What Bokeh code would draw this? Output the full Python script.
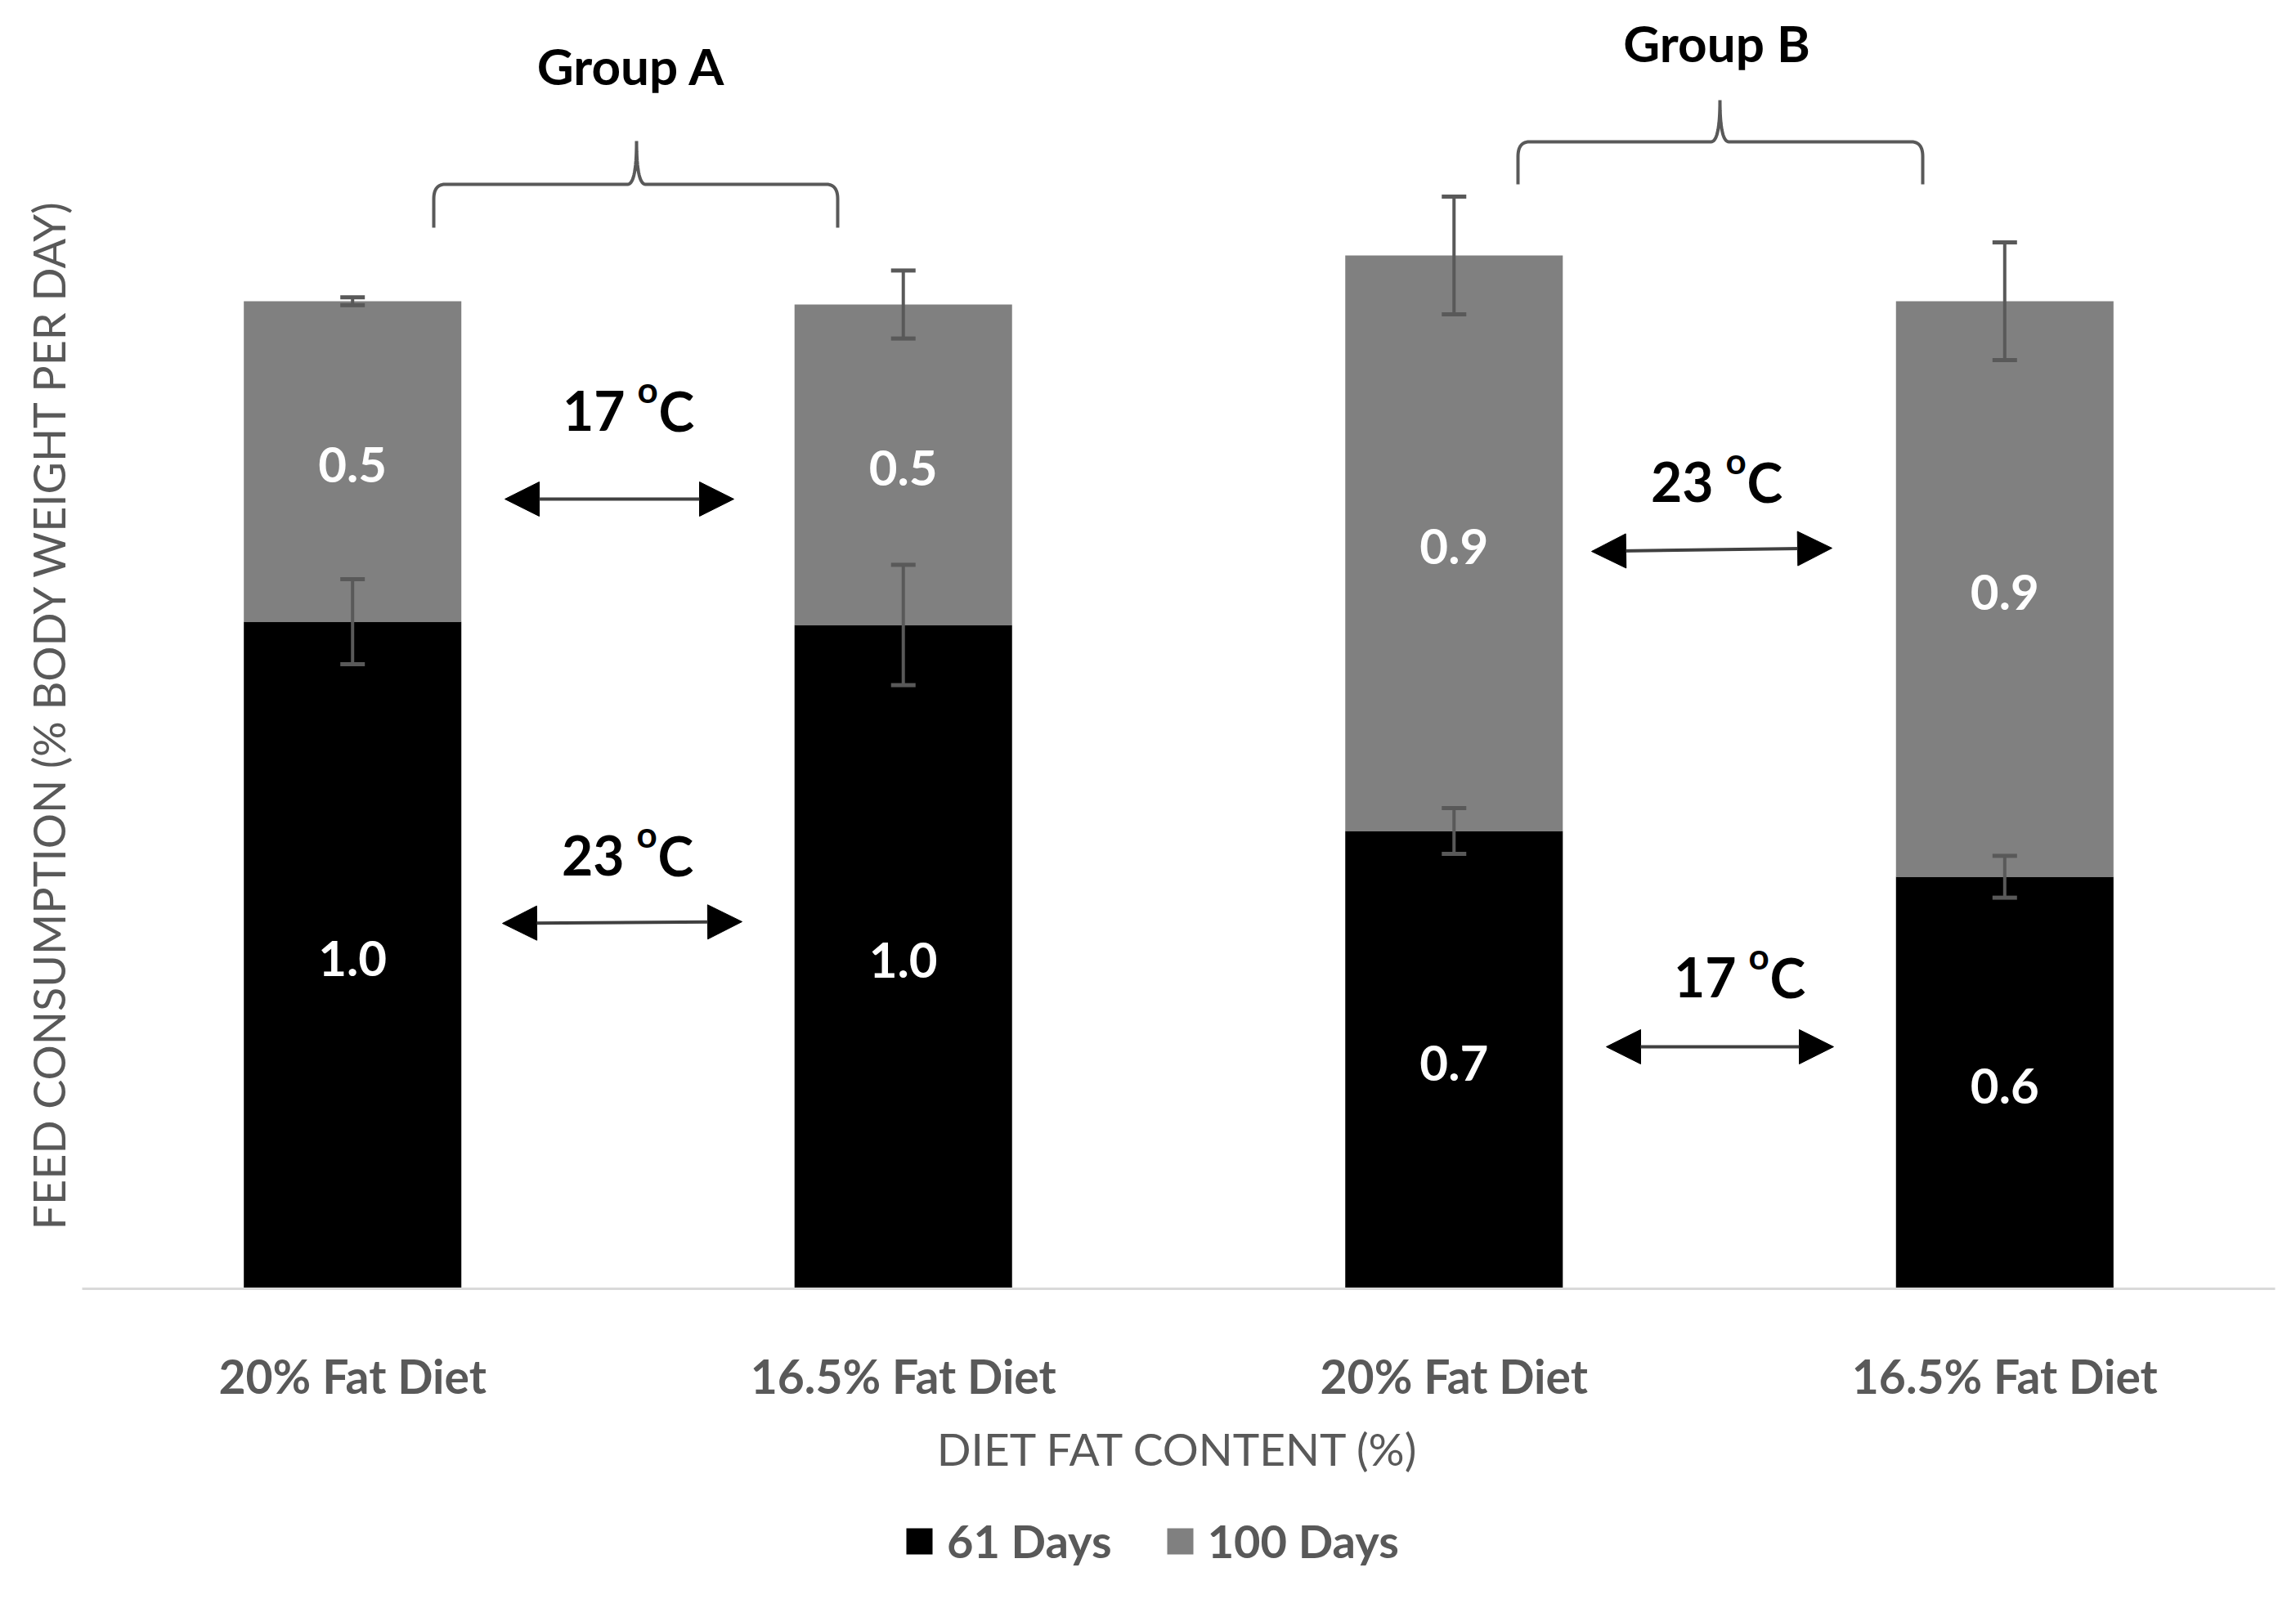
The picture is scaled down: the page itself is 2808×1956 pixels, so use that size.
import numpy as np
from bokeh.plotting import figure
from bokeh.layouts import column
from bokeh.models import (Range1d, FixedTicker, Whisker, ColumnDataSource, Arrow,
                          NormalHead, TeeHead, Legend, LegendItem, Title)
from bokeh.core.properties import value
from bokeh.embed import file_html
from bokeh.resources import INLINE

# ---------------- data ----------------
categories = ["20% Fat Diet", "16.5% Fat Diet", "20% Fat Diet", "16.5% Fat Diet"]
series_names = ["61 Days", "100 Days"]
series_colors = ["black", "#808080"]
days61 = [1.02, 1.015, 0.70, 0.63]
days100 = [0.49, 0.49, 0.88, 0.88]
err61 = [0.065, 0.092, 0.035, 0.032]
err100 = [0.006, 0.052, 0.09, 0.09]
group_names = ["Group A", "Group B"]
temp_top = ["17", "23"]      # upper arrow label per group
temp_bottom = ["23", "17"]   # lower arrow label per group

FONT = "Lato"
GRAY_TXT = "#595959"
X0, X1 = -0.491, 3.491
Y0, Y1 = 0.0, 1.97
FRAME_L, FRAME_R, FRAME_T, FRAME_B = 108, 2790, 8, 1584   # page pixels
FW, FH = FRAME_R - FRAME_L, FRAME_B - FRAME_T
XPX = FW / (X1 - X0)
YPX = FH / (Y1 - Y0)
BASE_FIX = 0.33   # em correction for alphabetic baseline placement
AXIS_H = 219      # estimated height of the x-axis panel
LEG_FIG_H = 1940 - FH - AXIS_H


def ix(px):
    return X0 + (px - FRAME_L) / XPX


def iy(py):
    return (FRAME_B - py) / YPX


xs = list(range(len(categories)))
top61 = days61
top100 = [a + b for a, b in zip(days61, days100)]
src = ColumnDataSource(dict(
    x=xs,
    t61=top61,
    t100=top100,
    up61=[t + e for t, e in zip(top61, err61)],
    lo61=[t - e for t, e in zip(top61, err61)],
    up100=[t + e for t, e in zip(top100, err100)],
    lo100=[t - e for t, e in zip(top100, err100)],
    c61=[t / 2 for t in top61],
    c100=[a + b / 2 for a, b in zip(days61, days100)],
    l61=[f"{v:.1f}" for v in days61],
    l100=[f"{v:.1f}" for v in days100],
))

p = figure(frame_width=FW, frame_height=FH, x_range=Range1d(X0, X1), y_range=Range1d(Y0, Y1),
           output_backend="svg", toolbar_location=None, y_axis_location=None,
           min_border_left=100, min_border_right=10, min_border_top=0,
           min_border_bottom=0)
p.grid.visible = False
p.outline_line_color = None
p.background_fill_color = "white"

r61 = p.vbar(x="x", bottom=0, top="t61", width=0.395, source=src,
             fill_color=series_colors[0], line_color=None)
r100 = p.vbar(x="x", bottom="t61", top="t100", width=0.395, source=src,
              fill_color=series_colors[1], line_color=None)

for up, lo in (("up61", "lo61"), ("up100", "lo100")):
    p.add_layout(Whisker(base="x", upper=up, lower=lo, source=src, level="annotation",
                         line_color="#595959", line_width=4,
                         upper_head=TeeHead(size=30, line_color="#595959", line_width=5),
                         lower_head=TeeHead(size=30, line_color="#595959", line_width=5)))

for yc, lab in (("c61", "l61"), ("c100", "l100")):
    p.text(x="x", y=yc, text=lab, source=src, text_font=value(FONT),
           text_font_style="bold", text_font_size="60px", text_color="white",
           text_align="center", text_baseline="middle", y_offset=4)

# x axis
ax = p.xaxis[0]
ax.ticker = FixedTicker(ticks=xs)
ax.major_label_overrides = {i: c for i, c in enumerate(categories)}
ax.major_tick_line_color = None
ax.minor_tick_line_color = None
ax.axis_line_color = "#d9d9d9"
ax.axis_line_width = 3
ax.major_label_text_font = FONT
ax.major_label_text_font_size = "57px"
ax.major_label_text_font_style = "bold"
ax.major_label_text_color = GRAY_TXT
ax.major_label_standoff = 66
ax.axis_label = "DIET FAT CONTENT (%)"
ax.axis_label_text_font = FONT
ax.axis_label_text_font_size = "55px"
ax.axis_label_text_font_style = "normal"
ax.axis_label_text_color = GRAY_TXT
ax.axis_label_standoff = 19

# y axis title
yt = Title(text="FEED CONSUMPTION (% BODY WEIGHT PER DAY)", align="left", offset=72,
           text_font=FONT, text_font_size="54px", text_font_style="normal",
           text_color=GRAY_TXT, standoff=15, vertical_align="middle")
p.add_layout(yt, "left")

# group labels and braces (page pixel geometry)
group_label_pos = [(779.5, 108), (2107, 80)]
braces = [(538, 1032, 786, 286, 233, 180), (1864, 2359, 2111, 233, 181, 130)]


def quad(a, c, b, n=16):
    t = np.linspace(0, 1, n)
    return ((1 - t) ** 2 * a[0] + 2 * (1 - t) * t * c[0] + t ** 2 * b[0],
            (1 - t) ** 2 * a[1] + 2 * (1 - t) * t * c[1] + t ** 2 * b[1])


GFS = 62
for (gx, gy), name, (xl, xr, xc, yb, yh, ytp) in zip(group_label_pos, group_names, braces):
    p.text(x=[ix(gx)], y=[iy(gy - BASE_FIX * GFS)], text=[name], text_font=value(FONT),
           text_font_style="bold", text_font_size=f"{GFS}px", text_color="black",
           text_align="center", text_baseline="alphabetic")
    segs = [
        ([xl, xl], [yb, yh + 18]),
        quad((xl, yh + 18), (xl, yh), (xl + 14, yh)),
        ([xl + 14, xc - 11], [yh, yh]),
        quad((xc - 11, yh), (xc, yh), (xc, ytp)),
        quad((xc, ytp), (xc, yh), (xc + 11, yh)),
        ([xc + 11, xr - 14], [yh, yh]),
        quad((xr - 14, yh), (xr, yh), (xr, yh + 18)),
        ([xr, xr], [yh + 18, yb]),
    ]
    bx = np.concatenate([np.asarray(s[0], float) for s in segs])
    by = np.concatenate([np.asarray(s[1], float) for s in segs])
    p.line([ix(v) for v in bx], [iy(v) for v in by], line_color="#595959", line_width=4)

# temperature arrows and labels (page pixel geometry)
arrows = [(625, 905, 618, 618), (622, 915, 1137, 1135),
          (1954, 2248, 682, 678), (1972, 2250, 1288, 1288)]
temp_pos = [(777, 532), (776, 1076), (2108, 619), (2136, 1225)]
temp_text = [temp_top[0], temp_bottom[0], temp_top[1], temp_bottom[1]]

for (xa, xb, ya, yb) in arrows:
    p.add_layout(Arrow(x_start=ix(xa), y_start=iy(ya), x_end=ix(xb), y_end=iy(yb),
                       line_color="#404040", line_width=4,
                       start=NormalHead(size=42, fill_color="black", line_color="black"),
                       end=NormalHead(size=42, fill_color="black", line_color="black")))

TFS, OFS = 66, 44
for (cx, base), t in zip(temp_pos, temp_text):
    yb_main = iy(base - BASE_FIX * TFS)
    yb_sup = iy(base - 34 - BASE_FIX * OFS)
    p.text(x=[ix(cx)], y=[yb_main], text=[t], x_offset=-5, text_font=value(FONT),
           text_font_style="bold", text_font_size=f"{TFS}px", text_color="black",
           text_align="right", text_baseline="alphabetic")
    p.text(x=[ix(cx)], y=[yb_sup], text=["o"], x_offset=10,
           text_font=value(FONT), text_font_style="bold", text_font_size=f"{OFS}px",
           text_color="black", text_align="left", text_baseline="alphabetic")
    p.text(x=[ix(cx)], y=[yb_main], text=["C"], x_offset=36, text_font=value(FONT),
           text_font_style="bold", text_font_size=f"{TFS}px", text_color="black",
           text_align="left", text_baseline="alphabetic")

# ---------------- legend strip (separate figure under the chart) ----------------
# The same two series are drawn here, but outside this strip's visible y-range,
# so only the legend swatches show.
lf = figure(frame_width=FW, frame_height=LEG_FIG_H, x_range=Range1d(X0, X1),
            y_range=Range1d(50, 51),
            output_backend="svg", toolbar_location=None, x_axis_location=None,
            y_axis_location=None, min_border_left=100, min_border_right=10,
            min_border_top=0, min_border_bottom=0)
lf.grid.visible = False
lf.outline_line_color = None
lr61 = lf.vbar(x="x", bottom=0, top="t61", width=0.395, source=src,
               fill_color=series_colors[0], line_color=None)
lr100 = lf.vbar(x="x", bottom="t61", top="t100", width=0.395, source=src,
                fill_color=series_colors[1], line_color=None)

LEG_H = 40
LEG_CENTER = 1894 - (FRAME_B + AXIS_H)     # px below the strip's top
legend = Legend(items=[LegendItem(label=series_names[0], renderers=[lr61]),
                       LegendItem(label=series_names[1], renderers=[lr100])],
                orientation="horizontal",
                location=(1112 - FRAME_L, LEG_FIG_H - LEG_CENTER - LEG_H // 2),
                glyph_width=40, glyph_height=40, label_height=LEG_H, label_text_font=FONT,
                label_text_font_size="56px", label_text_font_style="bold",
                label_text_color=GRAY_TXT, label_standoff=14, spacing=63,
                padding=0, margin=0, border_line_color=None,
                background_fill_alpha=0)
lf.add_layout(legend)

open("out.html", "w").write(file_html(column(p, lf, spacing=0), INLINE))
